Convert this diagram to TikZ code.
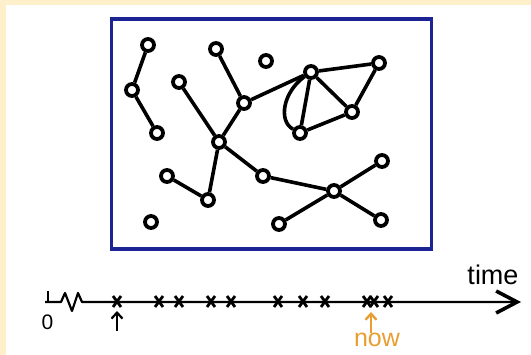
\documentclass[tikz,border=0pt]{standalone}
\usepackage{fontspec}
\setmainfont{Liberation Sans}
\usepackage{xcolor}
\usepackage{tikz}
\usetikzlibrary{arrows.meta, calc}

\definecolor{creamback}{RGB}{254,240,202}
\definecolor{framenavy}{RGB}{28,36,148}
\definecolor{nowcol}{RGB}{232,158,50}

\tikzset{
    vertex/.style={circle, draw=black, line width=3.8pt, fill=white, minimum size=12pt, inner sep=0pt},
    link/.style={black, line width=3.6pt},
    tally/.style={black, line width=2.8pt}
}

\begin{document}
\begin{tikzpicture}[x=1pt, y=-1pt, >={Straight Barb[length=6pt, width=11pt]}]
    \useasboundingbox (0,0) rectangle (531,355);
    % 1. Background (cream strip top and left)
    \fill[creamback] (0,0) rectangle (531,355);
    \fill[white] (5.5,5.5) rectangle (531,355);

    % 2. The frame
    \draw[framenavy, line width=3.8pt] (111.5,19) rectangle (431.5,249);

    % 3. Vertices of the graph
    \node[vertex] (a) at (148,45) {};
    \node[vertex] (b) at (132,90) {};
    \node[vertex] (c) at (157,133) {};
    \node[vertex] (d) at (216,49) {};
    \node[vertex] (e) at (179,82) {};
    \node[vertex] (f) at (266,61) {};
    \node[vertex] (g) at (244,103) {};
    \node[vertex] (h) at (219,142) {};
    \node[vertex] (i) at (311,72) {};
    \node[vertex] (j) at (379,63) {};
    \node[vertex] (k) at (352,112) {};
    \node[vertex] (l) at (300,133) {};
    \node[vertex] (m) at (167,176) {};
    \node[vertex] (n) at (208,200) {};
    \node[vertex] (o) at (263,176) {};
    \node[vertex] (p) at (382,161) {};
    \node[vertex] (q) at (334,191) {};
    \node[vertex] (r) at (279,224) {};
    \node[vertex] (s) at (381,220) {};
    \node[vertex] (t) at (151,222) {};

    % Edges
    \draw[link] (a) -- (b) -- (c);
    \draw[link] (d) -- (g) -- (h) -- (e);
    \draw[link] (g) -- (i) -- (j) -- (k) -- (l) -- (i) -- (k);
    \draw[link] (i) .. controls +(-28,20) and +(-22,-12) .. (l);
    \draw[link] (m) -- (n) -- (h) -- (o) -- (q);
    \draw[link] (p) -- (q) -- (r);
    \draw[link] (q) -- (s);

    % 4. Time axis
    \coordinate (start) at (45,302);
    \coordinate (tip) at (521,302);
    \draw[black, line width=2.2pt] (48,291) -- (48,302);
    \draw[black, line width=2.2pt, line join=round,
          -{Straight Barb[length=21pt, width=22pt, line width=3.6pt]}]
        (start) -- (61,302) -- (65,293) -- (72,311) -- (78,293) -- (82,302) -- (tip);
    \node[anchor=base, font=\fontsize{27}{30}\selectfont] (timelab) at (493,285) {time};
    \node[anchor=base, font=\fontsize{21}{24}\selectfont] (zero) at (47.5,330) {0};

    % Events on the axis
    \foreach \x in {117, 159, 179, 211, 231, 278, 303, 325, 367, 374, 388} {
        \draw[tally] (\x-4,296) -- (\x+4,307);
        \draw[tally] (\x+4,296) -- (\x-4,307);
    }

    % 5. Pointers
    \coordinate (firstlow) at (117,331);
    \coordinate (firsthigh) at (117,311);
    \draw[->, black, line width=2.2pt] (firstlow) -- (firsthigh);
    \node[anchor=base, text=nowcol, font=\fontsize{25}{28}\selectfont] (now) at (377,347) {now};
    \coordinate (nowhigh) at (371,312);
    \draw[->, nowcol, line width=2.4pt] (now.north -| nowhigh) ++(0,3) -- (nowhigh);
\end{tikzpicture}
\end{document}
